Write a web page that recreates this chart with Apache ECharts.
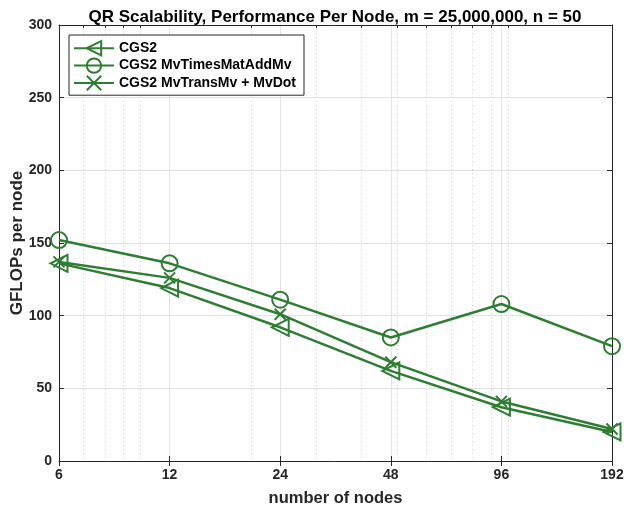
<!DOCTYPE html>
<html><head><meta charset="utf-8">
<script src="https://cdn.jsdelivr.net/npm/echarts@6/dist/echarts.min.js"></script>
<style>html,body{margin:0;padding:0;background:#fff}#c{width:627px;height:513px}</style>
</head><body><div id="c"></div>
<script>
const nodes = [6, 12, 24, 48, 96, 192];
const cgs2 = [136, 119, 92, 62, 37, 20];
const mvTimes = [152, 136, 111, 85, 108, 79];
const mvTrans = [137, 126, 101, 68, 41, 22];
const xTicks = [6, 12, 24, 48, 96, 192];
const xMinor = [7, 8, 9, 10, 20, 30, 40, 50, 60, 70, 80, 90, 100];
const seriesNames = ['CGS2', 'CGS2 MvTimesMatAddMv', 'CGS2 MvTransMv + MvDot'];

const green = '#2e7d32';
const axisColor = '#262626';
const font = "'Liberation Sans', Arial, Helvetica, sans-serif";

function pairs(ys) { return nodes.map((n, i) => [n, ys[i]]); }

function mkSeries(name, ys, symbol, size, rotate) {
  return {
    name: name, type: 'line', data: pairs(ys), xAxisIndex: 0, yAxisIndex: 0,
    symbol: symbol, symbolSize: size, symbolRotate: rotate || 0, showAllSymbol: true,
    clip: false, animation: false,
    lineStyle: { color: green, width: 2.5 },
    itemStyle: { color: 'rgba(0,0,0,0)', borderColor: green, borderWidth: 2 },
    emphasis: { disabled: true }
  };
}

const chart = echarts.init(document.getElementById('c'), null, { renderer: 'canvas' });
chart.setOption({
  animation: false,
  backgroundColor: '#fff',
  textStyle: { fontFamily: font },
  title: {
    text: 'QR Scalability, Performance Per Node, m = 25,000,000, n = 50',
    left: 330, top: 4, textAlign: 'center',
    textStyle: { fontFamily: font, fontSize: 17, fontWeight: 'bold', color: '#000' }
  },
  grid: { left: 59, right: 15, top: 25, bottom: 52, containLabel: false, outerBoundsMode: 'none' },
  legend: {
    orient: 'vertical', left: 69, top: 35,
    backgroundColor: '#fff', borderColor: axisColor, borderWidth: 1, borderRadius: 0,
    padding: [5, 8, 4, 4], itemGap: 1, itemWidth: 40, itemHeight: 18,
    textStyle: { fontFamily: font, fontSize: 14, fontWeight: 'bold', color: '#000' },
    data: seriesNames
  },
  xAxis: [
    {
      type: 'log', logBase: 2, min: 6, max: 192, position: 'bottom',
      name: 'number of nodes', nameLocation: 'middle', nameGap: 29,
      nameTextStyle: { fontFamily: font, fontSize: 16.5, fontWeight: 'bold', color: axisColor },
      axisLine: { show: true, onZero: false, lineStyle: { color: axisColor, width: 1 } },
      axisTick: { show: true, inside: true, length: 5, customValues: xTicks, lineStyle: { color: axisColor } },
      axisLabel: { customValues: xTicks, margin: 7, fontFamily: font, fontSize: 14, fontWeight: 'bold', color: axisColor,
        formatter: v => String(Math.round(v)) },
      splitLine: { show: true, lineStyle: { color: '#e3e3e3', width: 1 } }
    },
    {
      type: 'log', logBase: 2, min: 6, max: 192, position: 'top',
      axisLine: { show: true, onZero: false, lineStyle: { color: axisColor, width: 1 } },
      axisTick: { show: true, inside: true, length: 3, customValues: xMinor, lineStyle: { color: axisColor } },
      axisLabel: { show: false },
      splitLine: { show: true, lineStyle: { color: '#cfcfcf', width: 1, type: [1, 3] } }
    },
    {
      type: 'log', logBase: 2, min: 6, max: 192, position: 'top', offset: 0,
      axisLine: { show: false },
      axisTick: { show: true, inside: true, length: 5, customValues: xTicks, lineStyle: { color: axisColor } },
      axisLabel: { show: false },
      splitLine: { show: false }
    }
  ],
  yAxis: [
    {
      type: 'value', min: 0, max: 300, interval: 50, position: 'left',
      name: 'GFLOPs per node', nameLocation: 'middle', nameGap: 33, nameMoveOverlap: false,
      nameTextStyle: { fontFamily: font, fontSize: 17, fontWeight: 'bold', color: axisColor },
      axisLine: { show: true, onZero: false, lineStyle: { color: axisColor, width: 1 } },
      axisTick: { show: true, inside: true, length: 5, lineStyle: { color: axisColor } },
      axisLabel: { margin: 7, fontFamily: font, fontSize: 14, fontWeight: 'bold', color: axisColor },
      splitLine: { show: true, lineStyle: { color: '#e3e3e3', width: 1 } }
    },
    {
      type: 'value', min: 0, max: 300, interval: 50, position: 'right',
      axisLine: { show: true, onZero: false, lineStyle: { color: axisColor, width: 1 } },
      axisTick: { show: true, inside: true, length: 5, lineStyle: { color: axisColor } },
      axisLabel: { show: false },
      splitLine: { show: false }
    }
  ],
  series: [
    mkSeries(seriesNames[0], cgs2, 'triangle', [17, 17], 90),
    mkSeries(seriesNames[1], mvTimes, 'circle', 16),
    mkSeries(seriesNames[2], mvTrans, 'path://M0,0L10,10M10,0L0,10', 11)
  ]
});
</script>
</body></html>
